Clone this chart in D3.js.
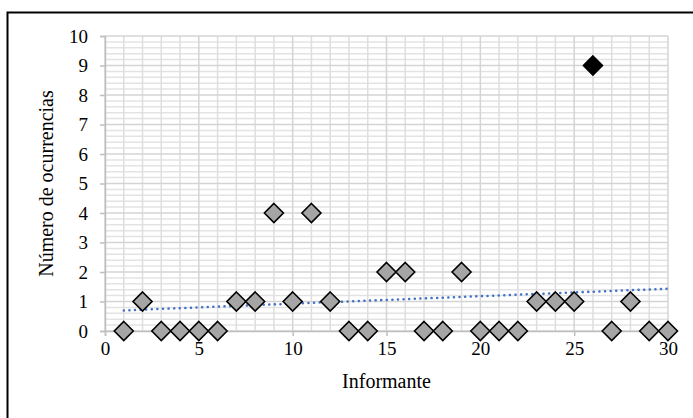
<!DOCTYPE html>
<html>
<head>
<meta charset="utf-8">
<script src="https://cdn.jsdelivr.net/npm/d3@7"></script>
<style>
  body { margin: 0; background: #fff; }
  svg { display: block; }
  text { font-family: "Liberation Serif", "Times New Roman", serif; fill: #000; }
</style>
</head>
<body>
<div id="svg-area"></div>
<script>
// data
var informante = [1, 2, 3, 4, 5, 6, 7, 8, 9, 10, 11, 12, 13, 14, 15,
                  16, 17, 18, 19, 20, 21, 22, 23, 24, 25, 26, 27, 28, 29, 30];
var ocurrencias = [0, 1, 0, 0, 0, 0, 1, 1, 4, 1, 4, 1, 0, 0, 2,
                   2, 0, 0, 2, 0, 0, 0, 1, 1, 1, 9, 0, 1, 0, 0];
var highlighted = [26];
var xTicks = [0, 5, 10, 15, 20, 25, 30];
var yTicks = [0, 1, 2, 3, 4, 5, 6, 7, 8, 9, 10];

var svgWidth = 693;
var svgHeight = 418;

var margin = { top: 36, right: 25, bottom: 87, left: 105 };
var width = svgWidth - margin.left - margin.right;
var height = svgHeight - margin.top - margin.bottom;

var svg = d3.select("#svg-area")
  .append("svg")
  .attr("width", svgWidth)
  .attr("height", svgHeight);

// outer frame (cut off on the right and bottom)
svg.append("path")
  .attr("d", "M7.5," + (svgHeight + 5) + " V12.5 H" + (svgWidth + 5))
  .attr("fill", "none")
  .attr("stroke", "#000")
  .attr("stroke-width", 2);

var chartGroup = svg.append("g")
  .attr("transform", `translate(${margin.left}, ${margin.top})`);

var x = d3.scaleLinear().domain([0, 30]).range([0, width]);
var y = d3.scaleLinear().domain([0, 10]).range([height, 0]);

// minor horizontal gridlines every 0.2
var minorY = d3.range(0, 10.001, 0.2).filter(v => Math.abs(v - Math.round(v)) > 0.01);
chartGroup.append("g").selectAll("line")
  .data(minorY)
  .enter().append("line")
  .attr("x1", 0).attr("x2", width)
  .attr("y1", d => y(d)).attr("y2", d => y(d))
  .attr("stroke", "#e3e3e3")
  .attr("stroke-width", 1.5);

// minor vertical gridlines every 1
chartGroup.append("g").selectAll("line")
  .data(d3.range(1, 30).filter(v => v % 5 !== 0))
  .enter().append("line")
  .attr("x1", d => x(d)).attr("x2", d => x(d))
  .attr("y1", 0).attr("y2", height)
  .attr("stroke", "#dedede")
  .attr("stroke-width", 1.5);

// major gridlines
chartGroup.append("g").selectAll("line")
  .data(yTicks)
  .enter().append("line")
  .attr("x1", 0).attr("x2", width)
  .attr("y1", d => y(d)).attr("y2", d => y(d))
  .attr("stroke", "#d4d4d4")
  .attr("stroke-width", 1.5);

chartGroup.append("g").selectAll("line")
  .data(xTicks)
  .enter().append("line")
  .attr("x1", d => x(d)).attr("x2", d => x(d))
  .attr("y1", 0).attr("y2", height)
  .attr("stroke", "#d4d4d4")
  .attr("stroke-width", 1.5);

// axes
var bottomAxis = d3.axisBottom(x).tickValues(xTicks).tickSize(5).tickPadding(6);
var leftAxis = d3.axisLeft(y).tickValues(yTicks).tickSize(5).tickPadding(12);

var gx = chartGroup.append("g")
  .attr("transform", `translate(0, ${height})`)
  .call(bottomAxis);
var gy = chartGroup.append("g").call(leftAxis);

[gx, gy].forEach(function(g) {
  g.attr("font-family", null).attr("font-size", null);
  g.select(".domain").attr("stroke", "#bfbfbf").attr("stroke-width", 1.5);
  g.selectAll(".tick line").attr("stroke", "#bfbfbf").attr("stroke-width", 1.5);
  g.selectAll(".tick text")
    .style("font-family", "'Liberation Serif', serif")
    .style("font-size", "19px")
    .style("fill", "#000");
});

// linear trendline (least squares over the data)
var mx = d3.mean(informante), my = d3.mean(ocurrencias);
var sxy = d3.sum(informante, (d, i) => (d - mx) * (ocurrencias[i] - my));
var sxx = d3.sum(informante, d => (d - mx) * (d - mx));
var slope = sxy / sxx;
var intercept = my - slope * mx;

chartGroup.append("line")
  .attr("x1", x(1)).attr("y1", y(intercept + slope * 1))
  .attr("x2", x(30)).attr("y2", y(intercept + slope * 30))
  .attr("stroke", "#4472c4")
  .attr("stroke-width", 2.5)
  .attr("stroke-linecap", "round")
  .attr("stroke-dasharray", "0.1 5.5");

// diamonds
var points = informante.map((d, i) => ({ x: d, y: ocurrencias[i] }));
var r = 9.5;
chartGroup.selectAll(".pt")
  .data(points)
  .enter().append("path")
  .attr("class", "pt")
  .attr("d", `M0,${-r} L${r},0 L0,${r} L${-r},0 Z`)
  .attr("transform", d => `translate(${x(d.x)}, ${y(d.y)})`)
  .attr("fill", d => highlighted.includes(d.x) ? "#000" : "#a5a5a5")
  .attr("stroke", "#000")
  .attr("stroke-width", 1.6);

// axis titles
chartGroup.append("text")
  .attr("transform", "rotate(-90)")
  .attr("x", 0 - (height / 2))
  .attr("y", 0 - margin.left + 53)
  .attr("text-anchor", "middle")
  .style("font-size", "20px")
  .text("Número de ocurrencias");

chartGroup.append("text")
  .attr("x", width / 2)
  .attr("y", height + 57)
  .attr("text-anchor", "middle")
  .style("font-size", "20px")
  .text("Informante");
</script>
</body>
</html>
